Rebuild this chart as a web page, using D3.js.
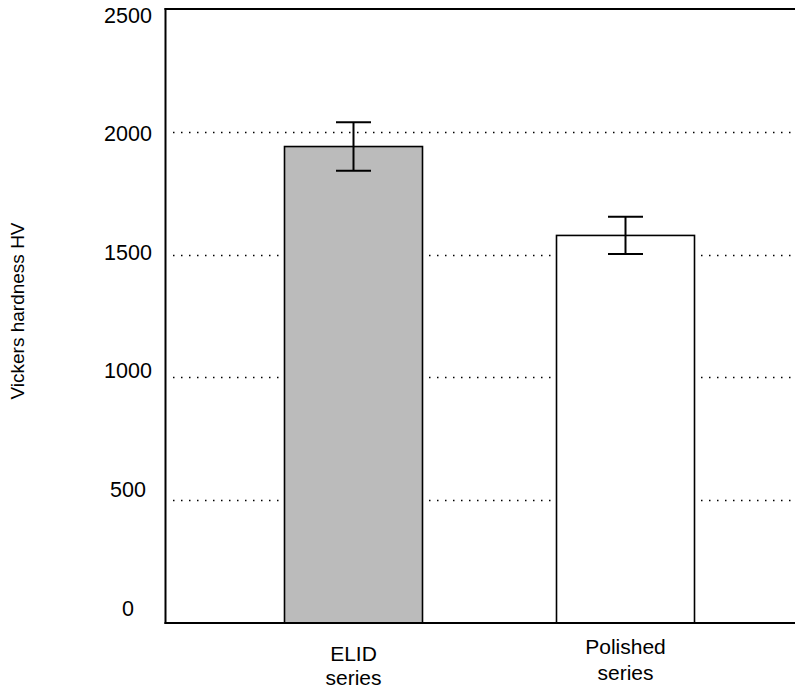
<!DOCTYPE html>
<html><head><meta charset="utf-8">
<script src="https://cdn.jsdelivr.net/npm/d3@7"></script>
<style>body{margin:0;background:#fff}svg{display:block}</style>
</head><body>
<script>
const categories = [["ELID", "series"], ["Polished", "series"]];
const values = [1940, 1578];
const errors = [99, 76];
const fills = ["#bbbbbb", "#ffffff"];
const yTicks = [0, 500, 1000, 1500, 2000, 2500];
const gridTicks = [500, 1000, 1500, 2000];
const yTitle = "Vickers hardness HV";

(function () {
const W = 795, H = 689;
const svg = d3.select("body").append("svg").attr("width", W).attr("height", H);
const font = "'Liberation Sans', Arial, Helvetica, sans-serif";

const pl = 165.5, pr = 800, pt = 9, pb = 623;
const y = d3.scaleLinear().domain([0, 2500]).range([pb, pt]);
const yLab = d3.scaleLinear().domain([0, 2500]).range([608, 15]);
const keys = categories.map(c => c.join(" "));
const x = d3.scalePoint().domain(keys).range([353.5, 625.5]);
const barW = 138;

// gridlines
svg.append("g").selectAll("line").data(gridTicks).join("line")
  .attr("x1", 173).attr("x2", pr)
  .attr("y1", d => Math.round(y(d)) + 0.5).attr("y2", d => Math.round(y(d)) + 0.5)
  .attr("stroke", "#000").attr("stroke-width", 1.3)
  .attr("stroke-dasharray", "1.5 6.5");

// bars
svg.append("g").selectAll("rect").data(values).join("rect")
  .attr("x", (d, i) => x(keys[i]) - barW / 2)
  .attr("width", barW)
  .attr("y", d => y(d))
  .attr("height", d => y(0) - y(d))
  .attr("fill", (d, i) => fills[i])
  .attr("stroke", "#000").attr("stroke-width", 1.6);

// error bars
const eg = svg.append("g").attr("stroke", "#000").attr("stroke-width", 2);
values.forEach((v, i) => {
  const cx = x(keys[i]);
  eg.append("line").attr("x1", cx).attr("x2", cx).attr("y1", y(v + errors[i])).attr("y2", y(v - errors[i]));
  [v + errors[i], v - errors[i]].forEach(e => {
    eg.append("line").attr("x1", cx - 17.5).attr("x2", cx + 17.5).attr("y1", y(e)).attr("y2", y(e));
  });
});

// frame lines
const fg = svg.append("g").attr("stroke", "#000").attr("stroke-width", 2);
fg.append("line").attr("x1", pl).attr("x2", pl).attr("y1", pt - 1).attr("y2", pb + 1);
fg.append("line").attr("x1", pl - 1).attr("x2", pr).attr("y1", pt).attr("y2", pt);
fg.append("line").attr("x1", pl - 1).attr("x2", pr).attr("y1", pb).attr("y2", pb);

// y tick labels
svg.append("g").selectAll("text").data(yTicks).join("text")
  .attr("x", 128).attr("y", d => yLab(d) + 7.5)
  .attr("text-anchor", "middle")
  .attr("font-family", font).attr("font-size", 21.5).attr("fill", "#000")
  .text(d => d);

// x labels
const xOff = [[661, 685], [654, 680]];
categories.forEach((c, i) => {
  const t = svg.append("text").attr("text-anchor", "middle")
    .attr("font-family", font).attr("font-size", 21).attr("fill", "#000");
  c.forEach((line, j) => {
    t.append("tspan").attr("x", x(keys[i])).attr("y", xOff[i][j]).text(line);
  });
});

// y title
svg.append("text")
  .attr("transform", "translate(24,311) rotate(-90)")
  .attr("text-anchor", "middle")
  .attr("font-family", font).attr("font-size", 19).attr("fill", "#000")
  .text(yTitle);
})();
</script>
</body></html>
